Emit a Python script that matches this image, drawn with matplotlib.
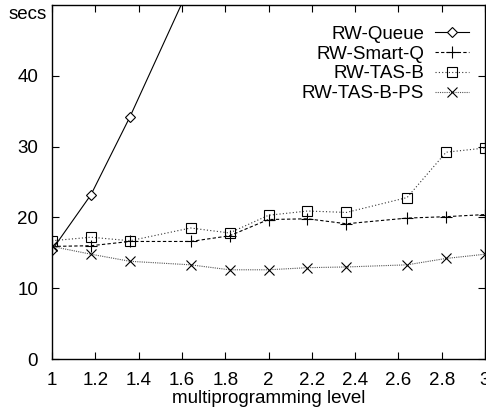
import matplotlib
matplotlib.use("Agg")
import matplotlib.pyplot as plt

plt.rcParams["font.family"] = ["Liberation Sans", "DejaVu Sans"]
plt.rcParams["font.size"] = 13.5

x = [1, 1.18, 1.36, 1.64, 1.82, 2, 2.18, 2.36, 2.64, 2.82, 3]

queue_x = [1, 1.18, 1.36, 1.64]
queue = [15.4, 23.2, 34.2, 52.9]
smart_q = [15.9, 16.0, 16.6, 16.6, 17.4, 19.7, 19.8, 19.1, 19.9, 20.1, 20.4]
tas_b = [16.7, 17.2, 16.7, 18.5, 17.8, 20.3, 20.9, 20.7, 22.8, 29.2, 29.8]
tas_b_ps = [15.9, 14.8, 13.8, 13.3, 12.6, 12.6, 12.9, 13.0, 13.3, 14.2, 14.8]

xticks = [1, 1.2, 1.4, 1.6, 1.8, 2, 2.2, 2.4, 2.6, 2.8, 3]
xticklabels = ["1", "1.2", "1.4", "1.6", "1.8", "2", "2.2", "2.4", "2.6", "2.8", "3"]
yticks = [0, 10, 20, 30, 40]

fig = plt.figure(figsize=(4.86, 4.12), dpi=100)
ax = fig.add_axes([0.107, 0.1286, 0.891, 0.8594])

ax.plot(queue_x, queue, color="black", lw=0.8, ls="-", marker="D",
        ms=5.5, mfc="white", mec="black", mew=0.8, label="RW-Queue")
ax.plot(x, smart_q, color="black", lw=0.8, ls=(0, (3, 2)), marker="+",
        ms=8, mec="black", mew=0.8, label="RW-Smart-Q")
ax.plot(x, tas_b, color="#333333", lw=0.8, ls=(0, (1, 2)), marker="s",
        ms=6.5, mfc="none", mec="black", mew=0.8, label="RW-TAS-B")
ax.plot(x, tas_b_ps, color="#555555", lw=0.8, ls=(0, (1, 1)), marker="x",
        ms=7, mec="black", mew=0.8, label="RW-TAS-B-PS")

ax.set_xlim(1, 3)
ax.set_ylim(0, 50)
ax.set_xticks(xticks)
ax.set_xticklabels(xticklabels)
ax.set_yticks(yticks)
ax.tick_params(direction="in", top=True, right=True, length=5, width=0.8)
ax.tick_params(axis="x", pad=9)
ax.tick_params(axis="y", pad=10)
for s in ax.spines.values():
    s.set_linewidth(1.0)

ax.set_xlabel("multiprogramming level", labelpad=1)
ax.text(-0.012, 0.972, "secs", transform=ax.transAxes, ha="right", va="center")

ax.legend(loc="upper right", bbox_to_anchor=(0.963, 0.942), frameon=False,
          markerfirst=False, handlelength=1.8, handletextpad=0.6,
          labelspacing=0.15, borderpad=0, borderaxespad=0)

fig.savefig("out.png", dpi=100)
